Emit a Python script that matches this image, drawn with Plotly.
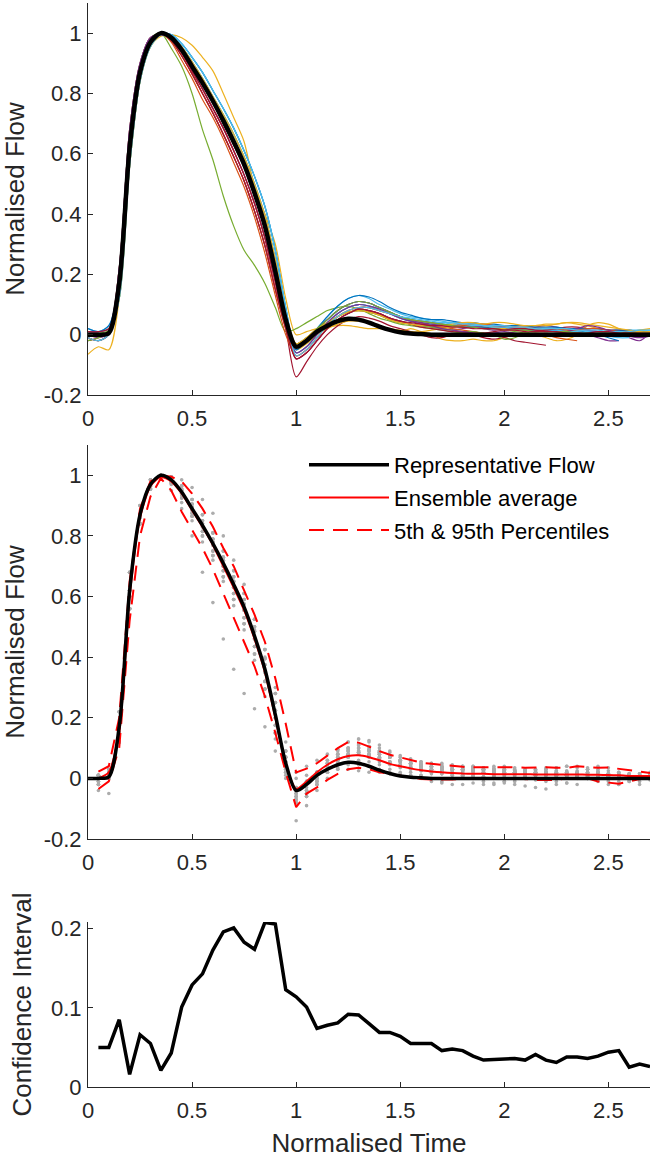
import plotly.graph_objects as go

# ---------------- data ----------------
time_grid = [round(0.05 * i, 2) for i in range(55)]  # 0 .. 2.7

# individual normalised flow waveforms (values at time_grid; None = waveform ended)
N = None
flow_01 = [0.00, 0.00, 0.01, 0.17, 0.62, 0.87, 0.97, 1.00, 0.985, 0.94, 0.885,
           0.83, 0.77, 0.70, 0.63, 0.555, 0.46, 0.35, 0.20, 0.04, -0.04, -0.02,
           0.02, 0.05, 0.08, 0.10, 0.11, 0.105, 0.09, 0.075, 0.06, 0.05, 0.045,
           0.04, 0.035, 0.03, 0.03, 0.025, 0.025, 0.02, 0.02, 0.02, 0.015, 0.015,
           0.015, 0.01, 0.01, 0.01, 0.01, 0.01, 0.005, 0.005, 0.005, 0.005, 0.005]
flow_02 = [0.01, 0.01, 0.02, 0.22, 0.68, 0.90, 0.985, 0.995, 0.98, 0.935, 0.875,
           0.815, 0.75, 0.685, 0.61, 0.53, 0.435, 0.32, 0.175, 0.03, -0.03, -0.01,
           0.02, 0.04, 0.06, 0.075, 0.08, 0.075, 0.065, 0.05, 0.04, 0.035, 0.03,
           0.03, 0.025, 0.03, 0.035, 0.03, 0.025, 0.02, 0.025, 0.02, 0.015, 0.02,
           0.02, 0.015, 0.01, 0.015, 0.015, 0.01, 0.005, 0.005, 0.0, 0.005, 0.01]
flow_03 = [-0.065, -0.04, -0.05, 0.12, 0.56, 0.84, 0.955, 0.99, 0.995, 0.985, 0.96,
           0.92, 0.875, 0.80, 0.72, 0.64, 0.49, 0.40, 0.30, 0.12, 0.00, 0.01,
           0.02, 0.025, 0.03, 0.03, 0.025, 0.02, 0.02, 0.015, 0.01, 0.02, 0.01,
           0.0, -0.015, -0.02, -0.02, -0.015, -0.02, -0.02, -0.01, 0.0, 0.005, 0.0,
           -0.01, -0.02, -0.015, 0.0, 0.03, 0.04, 0.035, 0.02, 0.01, 0.01, 0.005]
flow_04 = [-0.01, -0.02, 0.00, 0.17, 0.62, 0.87, 0.97, 1.00, 0.99, 0.95, 0.895,
           0.84, 0.78, 0.72, 0.65, 0.575, 0.485, 0.375, 0.225, 0.055, -0.08, -0.06,
           -0.02, 0.02, 0.05, 0.07, 0.085, 0.08, 0.07, 0.055, 0.045, 0.035, 0.03,
           0.025, 0.02, 0.015, 0.02, 0.025, 0.02, 0.015, 0.02, 0.025, 0.02, 0.015,
           0.01, 0.015, 0.02, 0.01, 0.0, -0.01, -0.02, -0.02, N, N, N]
flow_05 = [0.00, 0.005, 0.015, 0.22, 0.68, 0.90, 0.985, 1.00, 0.95, 0.89, 0.80,
           0.68, 0.58, 0.46, 0.36, 0.28, 0.23, 0.17, 0.09, 0.01, 0.02, 0.04,
           0.06, 0.08, 0.09, 0.095, 0.085, 0.07, 0.055, 0.045, 0.035, 0.03, 0.025,
           0.02, 0.015, 0.01, 0.005, 0.0, -0.005, 0.0, 0.005, 0.01, 0.005, 0.0,
           0.0, 0.005, 0.01, 0.005, 0.0, 0.0, 0.005, 0.01, 0.01, 0.005, 0.01]
flow_06 = [0.02, 0.01, 0.03, 0.12, 0.56, 0.84, 0.955, 0.995, 0.995, 0.965, 0.92,
           0.87, 0.81, 0.75, 0.685, 0.61, 0.525, 0.425, 0.28, 0.09, -0.05, -0.02,
           0.02, 0.06, 0.095, 0.12, 0.13, 0.12, 0.10, 0.085, 0.07, 0.06, 0.055,
           0.05, 0.045, 0.04, 0.04, 0.035, 0.03, 0.03, 0.025, 0.025, 0.02, 0.02,
           0.02, 0.015, 0.015, 0.015, 0.01, 0.01, 0.01, 0.01, 0.015, 0.015, 0.015]
flow_07 = [-0.02, -0.01, 0.01, 0.15, 0.60, 0.86, 0.965, 1.00, 0.975, 0.925, 0.865,
           0.80, 0.735, 0.665, 0.59, 0.51, 0.41, 0.295, 0.15, 0.02, -0.14, -0.09,
           -0.04, 0.00, 0.03, 0.05, 0.06, 0.055, 0.045, 0.03, 0.02, 0.01, 0.0,
           -0.01, -0.01, 0.0, 0.005, 0.0, -0.01, -0.015, -0.01, -0.02, -0.025, -0.03,
           -0.035, N, N, N, N, N, N, N, N, N, N]
flow_08 = [-0.01, -0.02, 0.00, 0.15, 0.60, 0.86, 0.965, 1.00, 0.99, 0.955, 0.905,
           0.85, 0.79, 0.73, 0.665, 0.59, 0.50, 0.395, 0.25, 0.07, -0.06, -0.04,
           0.00, 0.04, 0.07, 0.09, 0.10, 0.095, 0.085, 0.07, 0.055, 0.045, 0.04,
           0.035, 0.035, 0.03, 0.03, 0.03, 0.025, 0.025, 0.02, 0.02, 0.025, 0.02,
           0.015, 0.015, 0.01, 0.01, 0.005, 0.0, -0.01, -0.02, N, N, N]
flow_09 = [0.00, 0.00, 0.01, 0.17, 0.62, 0.87, 0.97, 1.00, 0.97, 0.91, 0.85,
           0.78, 0.72, 0.65, 0.57, 0.49, 0.39, 0.27, 0.13, 0.00, -0.07, -0.05,
           -0.01, 0.03, 0.06, 0.08, 0.09, 0.09, 0.08, 0.07, 0.06, 0.05, 0.04,
           0.03, 0.025, 0.02, 0.015, 0.01, 0.005, 0.005, 0.0, -0.005, 0.0, 0.005,
           0.0, -0.01, -0.015, -0.02, N, N, N, N, N, N, N]
flow_10 = [0.01, 0.01, 0.02, 0.12, 0.56, 0.84, 0.955, 0.995, 0.99, 0.95, 0.895,
           0.84, 0.78, 0.72, 0.65, 0.575, 0.485, 0.375, 0.225, 0.055, -0.05, -0.03,
           0.00, 0.02, 0.035, 0.045, 0.045, 0.04, 0.03, 0.02, 0.015, 0.01, 0.01,
           0.015, 0.02, 0.025, 0.03, 0.035, 0.03, 0.025, 0.02, 0.02, 0.025, 0.03,
           0.035, 0.035, 0.04, 0.035, 0.03, 0.02, 0.015, 0.01, 0.01, 0.015, 0.02]
flow_11 = [0.00, -0.01, 0.005, 0.22, 0.68, 0.90, 0.985, 0.995, 0.98, 0.935, 0.875,
           0.815, 0.75, 0.685, 0.61, 0.53, 0.435, 0.32, 0.175, 0.03, -0.04, -0.02,
           0.02, 0.05, 0.08, 0.10, 0.11, 0.105, 0.09, 0.075, 0.06, 0.05, 0.04,
           0.035, 0.03, 0.03, 0.025, 0.025, 0.03, 0.03, 0.025, 0.02, 0.02, 0.025,
           0.03, 0.025, 0.02, 0.02, 0.015, 0.01, 0.005, 0.0, -0.01, -0.02, 0.005]
flow_12 = [-0.02, -0.01, 0.01, 0.17, 0.62, 0.87, 0.97, 1.00, 0.985, 0.94, 0.885,
           0.83, 0.77, 0.70, 0.63, 0.555, 0.46, 0.35, 0.20, 0.04, -0.03, -0.01,
           0.02, 0.04, 0.06, 0.075, 0.08, 0.075, 0.065, 0.05, 0.04, 0.035, 0.03,
           0.025, 0.02, 0.015, 0.01, 0.01, 0.005, 0.0, -0.015, -0.01, 0.005, 0.01,
           0.01, 0.01, 0.005, 0.005, 0.0, 0.0, 0.005, 0.005, 0.01, 0.01, 0.01]
flow_13 = [0.01, 0.01, 0.02, 0.12, 0.56, 0.84, 0.955, 0.995, 0.99, 0.955, 0.905,
           0.85, 0.79, 0.73, 0.665, 0.59, 0.50, 0.395, 0.25, 0.07, -0.06, -0.04,
           0.00, 0.04, 0.07, 0.09, 0.10, 0.095, 0.085, 0.07, 0.055, 0.05, 0.045,
           0.04, 0.04, 0.035, 0.03, 0.03, 0.03, 0.025, 0.025, 0.02, 0.02, 0.02,
           0.015, 0.015, 0.01, 0.01, 0.005, 0.0, -0.005, -0.01, -0.01, N, N]
flow_14 = [0.00, 0.00, 0.01, 0.15, 0.60, 0.86, 0.965, 1.00, 0.98, 0.935, 0.875,
           0.815, 0.75, 0.685, 0.61, 0.53, 0.435, 0.32, 0.175, 0.03, -0.08, -0.06,
           -0.02, 0.02, 0.05, 0.07, 0.085, 0.08, 0.07, 0.055, 0.045, 0.035, 0.025,
           0.02, 0.015, 0.01, 0.01, 0.005, 0.005, 0.01, 0.015, 0.02, 0.02, 0.015,
           0.015, 0.02, 0.025, 0.025, 0.02, 0.02, 0.015, 0.015, 0.01, 0.01, 0.01]
flow_15 = [0.02, 0.01, 0.03, 0.17, 0.62, 0.87, 0.97, 1.00, 0.995, 0.965, 0.92,
           0.87, 0.81, 0.75, 0.685, 0.61, 0.525, 0.425, 0.28, 0.09, -0.05, -0.02,
           0.02, 0.06, 0.095, 0.12, 0.13, 0.125, 0.11, 0.09, 0.075, 0.065, 0.055,
           0.05, 0.05, 0.045, 0.04, 0.04, 0.035, 0.035, 0.03, 0.03, 0.03, 0.025,
           0.025, 0.025, 0.02, 0.02, 0.02, 0.02, 0.015, 0.015, 0.015, 0.01, 0.01]
flow_16 = [-0.01, -0.02, 0.00, 0.15, 0.60, 0.86, 0.965, 1.00, 0.975, 0.925, 0.865,
           0.80, 0.735, 0.665, 0.59, 0.51, 0.41, 0.295, 0.15, 0.02, -0.07, -0.05,
           -0.01, 0.03, 0.06, 0.08, 0.09, 0.09, 0.08, 0.07, 0.06, 0.05, 0.045,
           0.04, 0.035, 0.03, 0.03, 0.035, 0.035, 0.03, 0.03, 0.025, 0.025, 0.02,
           0.02, 0.02, 0.015, 0.015, 0.02, 0.02, 0.015, 0.01, 0.005, 0.005, 0.005]
flow_17 = [0.00, 0.00, 0.01, 0.12, 0.56, 0.84, 0.955, 0.995, 0.99, 0.955, 0.905,
           0.85, 0.79, 0.73, 0.665, 0.59, 0.50, 0.395, 0.25, 0.07, -0.03, -0.01,
           0.02, 0.04, 0.06, 0.075, 0.08, 0.075, 0.065, 0.05, 0.04, 0.035, 0.03,
           0.03, 0.03, 0.035, 0.04, 0.04, 0.035, 0.04, 0.04, 0.035, 0.03, 0.03,
           0.03, 0.035, 0.04, 0.04, 0.035, 0.03, 0.025, 0.02, 0.015, 0.01, 0.01]
flow_18 = [0.01, 0.01, 0.02, 0.22, 0.68, 0.90, 0.985, 0.995, 0.985, 0.94, 0.885,
           0.83, 0.77, 0.70, 0.63, 0.555, 0.46, 0.35, 0.20, 0.04, -0.06, -0.04,
           0.00, 0.04, 0.07, 0.09, 0.10, 0.095, 0.085, 0.07, 0.055, 0.045, 0.035,
           0.03, 0.02, 0.015, 0.01, 0.005, 0.0, 0.005, 0.01, 0.005, 0.0, -0.005,
           0.0, 0.005, 0.01, 0.02, 0.03, 0.025, 0.015, 0.005, -0.005, -0.01, -0.005]
flow_19 = [0.00, 0.00, 0.01, 0.17, 0.62, 0.87, 0.97, 1.00, 0.99, 0.95, 0.895,
           0.84, 0.78, 0.72, 0.65, 0.575, 0.485, 0.375, 0.225, 0.055, -0.04, -0.02,
           0.02, 0.05, 0.08, 0.10, 0.11, 0.105, 0.09, 0.075, 0.06, 0.05, 0.045,
           0.04, 0.035, 0.03, 0.025, 0.025, 0.02, 0.02, 0.015, 0.015, 0.015, 0.01,
           0.01, 0.01, 0.01, 0.005, 0.005, 0.005, 0.005, 0.005, 0.0, 0.0, 0.0]
flow_20 = [-0.01, -0.02, 0.00, 0.12, 0.56, 0.84, 0.955, 0.995, 0.995, 0.965, 0.92,
           0.87, 0.81, 0.75, 0.685, 0.61, 0.525, 0.425, 0.28, 0.09, -0.07, -0.05,
           -0.01, 0.03, 0.06, 0.08, 0.09, 0.09, 0.08, 0.07, 0.06, 0.055, 0.05,
           0.045, 0.04, 0.04, 0.035, 0.035, 0.03, 0.03, 0.03, 0.025, 0.025, 0.02,
           0.02, 0.02, 0.02, 0.015, 0.015, 0.015, 0.01, 0.01, 0.01, 0.015, 0.015]
flow_21 = [0.01, 0.01, 0.02, 0.15, 0.60, 0.86, 0.965, 1.00, 0.975, 0.925, 0.865,
           0.80, 0.735, 0.665, 0.59, 0.51, 0.41, 0.295, 0.15, 0.02, -0.08, -0.06,
           -0.02, 0.02, 0.05, 0.07, 0.085, 0.08, 0.07, 0.055, 0.045, 0.04, 0.035,
           0.03, 0.03, 0.025, 0.025, 0.02, 0.02, 0.02, 0.015, 0.015, 0.01, 0.01,
           0.01, 0.01, 0.005, 0.005, 0.005, 0.01, 0.01, 0.005, 0.005, 0.0, 0.0]

individual_flows = [flow_01, flow_02, flow_03, flow_04, flow_05, flow_06, flow_07,
                    flow_08, flow_09, flow_10, flow_11, flow_12, flow_13, flow_14,
                    flow_15, flow_16, flow_17, flow_18, flow_19, flow_20, flow_21]

representative_flow = [0.00, 0.00, 0.005, 0.17, 0.62, 0.87, 0.97, 1.00, 0.985, 0.945, 0.89,
                       0.835, 0.775, 0.71, 0.64, 0.565, 0.47, 0.36, 0.21, 0.05, -0.04, -0.02,
                       0.01, 0.03, 0.045, 0.053, 0.05, 0.04, 0.027, 0.016, 0.008, 0.004, 0.002,
                       0.0, 0.0, 0.0, 0.0, 0.0, 0.0, 0.0, 0.0, 0.0, 0.0, 0.0,
                       0.0, 0.0, 0.0, 0.0, 0.0, 0.0, 0.0, 0.0, 0.0, 0.0, 0.0]

stat_time = time_grid[1:]  # 0.05 .. 2.7
ensemble_average = [0.00, 0.02, 0.15, 0.60, 0.86, 0.965, 0.995, 0.98, 0.94, 0.885,
                    0.83, 0.77, 0.70, 0.63, 0.555, 0.46, 0.35, 0.20, 0.045, -0.035,
                    -0.01, 0.02, 0.045, 0.063, 0.074, 0.076, 0.07, 0.06, 0.048, 0.04,
                    0.033, 0.027, 0.023, 0.02, 0.018, 0.016, 0.015, 0.015, 0.014, 0.014,
                    0.014, 0.014, 0.013, 0.013, 0.013, 0.013, 0.013, 0.012, 0.012, 0.011,
                    0.01, 0.008, 0.008, 0.008]
percentile_95 = [0.022, 0.04, 0.20, 0.65, 0.89, 0.98, 1.0, 0.995, 0.98, 0.94,
                 0.89, 0.83, 0.76, 0.70, 0.62, 0.54, 0.45, 0.33, 0.18, 0.02,
                 0.032, 0.05, 0.075, 0.10, 0.12, 0.118, 0.105, 0.09, 0.078, 0.07,
                 0.06, 0.052, 0.048, 0.045, 0.04, 0.038, 0.037, 0.037, 0.038, 0.036,
                 0.037, 0.035, 0.036, 0.037, 0.035, 0.035, 0.04, 0.038, 0.035, 0.036,
                 0.032, 0.028, 0.022, 0.018]
percentile_5 = [-0.035, -0.01, 0.10, 0.52, 0.80, 0.93, 0.99, 0.95, 0.88, 0.82,
                0.76, 0.69, 0.61, 0.53, 0.45, 0.37, 0.27, 0.15, 0.02, -0.095,
                -0.05, -0.03, -0.005, 0.015, 0.03, 0.035, 0.03, 0.02, 0.015, 0.01,
                0.003, -0.002, -0.004, -0.005, -0.004, -0.002, 0.0, -0.002, 0.0, 0.0,
                0.0, -0.003, -0.005, -0.005, -0.005, 0.0, 0.0, 0.0, -0.01, -0.015,
                -0.018, -0.01, -0.003, 0.005]
confidence_interval = [0.050, 0.050, 0.085, 0.016, 0.066, 0.055, 0.021, 0.043, 0.101, 0.129,
                       0.143, 0.173, 0.196, 0.201, 0.183, 0.174, 0.208, 0.206, 0.123, 0.114,
                       0.101, 0.074, 0.078, 0.081, 0.092, 0.091, 0.080, 0.069, 0.069, 0.064,
                       0.055, 0.055, 0.055, 0.046, 0.048, 0.046, 0.039, 0.034, 0.035, 0.036,
                       0.036, 0.034, 0.041, 0.034, 0.031, 0.038, 0.038, 0.036, 0.039, 0.044,
                       0.046, 0.025, 0.029, 0.026]

x_tick_vals = [0, 0.5, 1, 1.5, 2, 2.5]
x_tick_text = ["0", "0.5", "1", "1.5", "2", "2.5"]
flow_tick_vals = [-0.2, 0, 0.2, 0.4, 0.6, 0.8, 1]
flow_tick_text = ["-0.2", "0", "0.2", "0.4", "0.6", "0.8", "1"]
ci_tick_vals = [0, 0.1, 0.2]
ci_tick_text = ["0", "0.1", "0.2"]

line_colors = ["#0072BD", "#D95319", "#EDB120", "#7E2F8E", "#77AC30", "#4DBEEE", "#A2142F"]

# ---------------- figure ----------------
FONT = "Liberation Sans, Arial, Helvetica, sans-serif"
AX = "#262626"
fig = go.Figure()

# top panel: individual waveforms + representative flow
for k, flow in enumerate(individual_flows):
    fig.add_trace(go.Scatter(x=time_grid, y=flow, mode="lines", xaxis="x", yaxis="y",
                             line=dict(color=line_colors[k % 7], width=1.2, shape="spline", smoothing=0.8),
                             showlegend=False, hoverinfo="skip"))
fig.add_trace(go.Scatter(x=time_grid, y=representative_flow, mode="lines", xaxis="x", yaxis="y",
                         line=dict(color="black", width=4.5, shape="spline", smoothing=0.8),
                         showlegend=False))

# middle panel: gray samples, percentiles, ensemble average, representative
dot_x, dot_y = [], []
for flow in individual_flows:
    for t, v in zip(time_grid[1:], flow[1:]):
        if v is not None:
            dot_x.append(t)
            dot_y.append(v)
fig.add_trace(go.Scatter(x=dot_x, y=dot_y, mode="markers", xaxis="x2", yaxis="y2",
                         marker=dict(color="#acacac", size=3.6), showlegend=False, hoverinfo="skip"))
fig.add_trace(go.Scatter(x=stat_time, y=percentile_95, mode="lines", xaxis="x2", yaxis="y2",
                         line=dict(color="#ff0000", width=2, dash="15px,9px"),
                         name="5th & 95th Percentiles", legendgroup="c", legendrank=3))
fig.add_trace(go.Scatter(x=stat_time, y=percentile_5, mode="lines", xaxis="x2", yaxis="y2",
                         line=dict(color="#ff0000", width=2, dash="15px,9px"),
                         name="5th & 95th Percentiles", legendgroup="c", showlegend=False))
fig.add_trace(go.Scatter(x=stat_time, y=ensemble_average, mode="lines", xaxis="x2", yaxis="y2",
                         line=dict(color="#ff0000", width=2, shape="spline", smoothing=0.6),
                         name="Ensemble average", legendgroup="b", legendrank=2))
fig.add_trace(go.Scatter(x=time_grid, y=representative_flow, mode="lines", xaxis="x2", yaxis="y2",
                         line=dict(color="black", width=3.5, shape="spline", smoothing=0.8),
                         name="Representative Flow", legendgroup="a", legendrank=1))

# bottom panel: confidence interval
fig.add_trace(go.Scatter(x=stat_time, y=confidence_interval, mode="lines", xaxis="x3", yaxis="y3",
                         line=dict(color="black", width=3.5), showlegend=False))

H = 1084.0
def dom(top_px, bot_px):
    return [(1087 - bot_px) / H, (1087 - top_px) / H]

xbase = dict(range=[0, 2.7], tickvals=x_tick_vals, ticktext=x_tick_text, showline=True,
             linecolor=AX, linewidth=1, ticks="inside", ticklen=5, tickcolor=AX,
             showgrid=False, zeroline=False, tickfont=dict(size=22, color=AX, family=FONT),
             ticklabelstandoff=4, automargin=False, fixedrange=True)
ybase = dict(showline=True, linecolor=AX, linewidth=1, ticks="inside", ticklen=5, tickcolor=AX,
             showgrid=False, zeroline=False, tickfont=dict(size=22, color=AX, family=FONT),
             ticklabelstandoff=1, automargin=False, fixedrange=True)
ytitle_font = dict(size=26, color=AX, family=FONT)

fig.update_layout(
    width=652, height=1158,
    margin=dict(l=88, r=2, t=3, b=71, autoexpand=False),
    paper_bgcolor="white", plot_bgcolor="white",
    font=dict(family=FONT, color=AX),
    xaxis=dict(xbase, domain=[0, 1], anchor="y"),
    yaxis=dict(ybase, domain=dom(3, 395), anchor="x", range=[-0.2, 1.1],
               tickvals=flow_tick_vals, ticktext=flow_tick_text,
               title=dict(text="Normalised Flow", font=ytitle_font, standoff=14)),
    xaxis2=dict(xbase, domain=[0, 1], anchor="y2"),
    yaxis2=dict(ybase, domain=dom(445, 839), anchor="x2", range=[-0.2, 1.1],
                tickvals=flow_tick_vals, ticktext=flow_tick_text,
                title=dict(text="Normalised Flow", font=ytitle_font, standoff=14)),
    xaxis3=dict(xbase, domain=[0, 1], anchor="y3",
                title=dict(text="Normalised Time", font=ytitle_font, standoff=14)),
    yaxis3=dict(ybase, domain=dom(922, 1087), anchor="x3", range=[0, 0.2085],
                tickvals=ci_tick_vals, ticktext=ci_tick_text,
                title=dict(text="Confidence Interval", font=ytitle_font, standoff=11)),
    legend=dict(x=(304 - 88) / 562.0, xanchor="left", y=(1087 - 444) / H, yanchor="top",
                bgcolor="rgba(255,255,255,0)", borderwidth=0,
                font=dict(size=22, color="#000000", family=FONT),
                itemwidth=80, tracegroupgap=1, traceorder="grouped"),
    showlegend=True,
)

fig.write_html("out.html", config={"displayModeBar": False},
               post_script="document.body.style.margin='0';")
